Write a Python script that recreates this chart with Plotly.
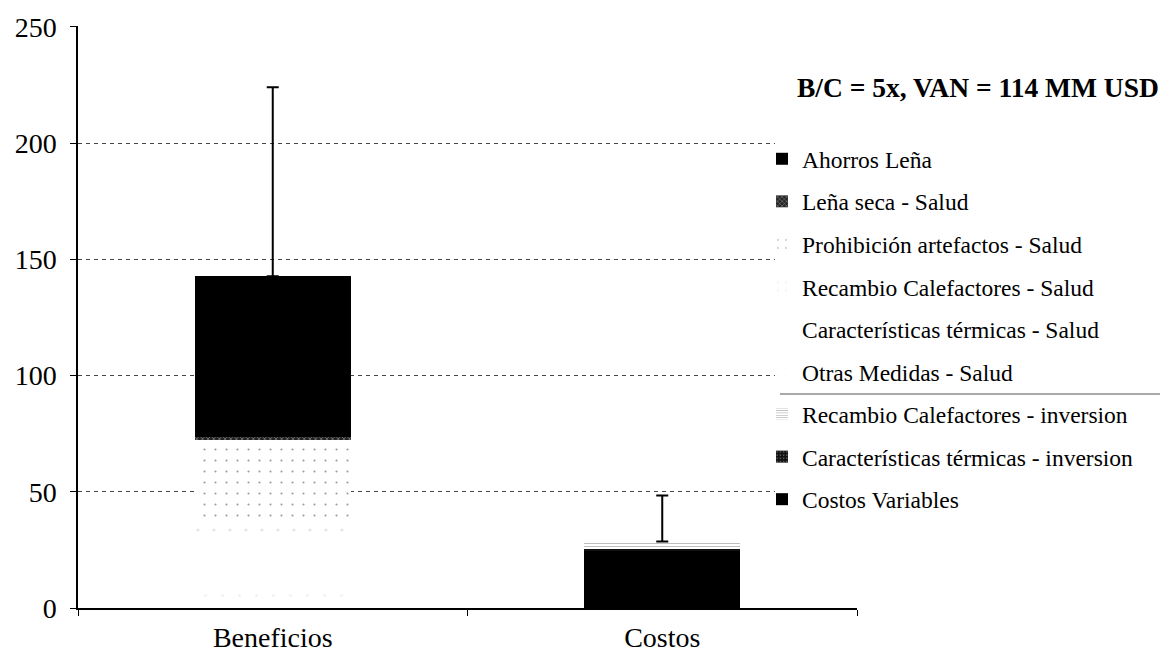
import numpy as np
import plotly.graph_objects as go

# Categories on the x axis
categories = ["Beneficios", "Costos"]

# Stacked components (MM USD), listed bottom to top of the stack
costos_variables = [0.0, 24.8]
caract_termicas_inversion = [0.0, 0.5]
recambio_calefactores_inversion = [0.0, 3.3]
otras_medidas_salud = [8.0, 0.0]
caract_termicas_salud = [20.8, 0.0]
recambio_calefactores_salud = [7.0, 0.0]
prohibicion_artefactos_salud = [36.6, 0.0]
lena_seca_salud = [1.1, 0.0]
ahorros_lena = [69.2, 0.0]

# Upper uncertainty on each total
error_plus = [81.3, 19.8]

y_ticks = [0, 50, 100, 150, 200, 250]

SERIF = "Liberation Serif"

series = [
    ("Costos Variables", costos_variables,
     dict(color="#000000")),
    ("Características térmicas - inversion", caract_termicas_inversion,
     dict(color="#111111", pattern=dict(shape=".", fgcolor="#ffffff", bgcolor="#111111", size=4, solidity=0.15))),
    ("Recambio Calefactores - inversion", recambio_calefactores_inversion,
     dict(color="#ffffff", pattern=dict(shape="-", fgcolor="#555555", bgcolor="#ffffff", size=3, solidity=0.25))),
    ("Otras Medidas - Salud", otras_medidas_salud,
     dict(color="#ffffff", pattern=dict(shape=".", fgcolor="#dddddd", bgcolor="#ffffff", size=17, solidity=0.02))),
    ("Características térmicas - Salud", caract_termicas_salud,
     dict(color="#ffffff")),
    ("Recambio Calefactores - Salud", recambio_calefactores_salud,
     dict(color="#ffffff", pattern=dict(shape=".", fgcolor="#cccccc", bgcolor="#ffffff", size=16, solidity=0.03))),
    ("Prohibición artefactos - Salud", prohibicion_artefactos_salud,
     dict(color="#ffffff", pattern=dict(shape=".", fgcolor="#333333", bgcolor="#ffffff", size=11, solidity=0.03))),
    ("Leña seca - Salud", lena_seca_salud,
     dict(color="#222222", pattern=dict(shape="x", fgcolor="#ffffff", bgcolor="#222222", size=4, solidity=0.3))),
    ("Ahorros Leña", ahorros_lena,
     dict(color="#000000")),
]

fig = go.Figure()

n = len(series)
for i, (name, values, marker) in enumerate(series):
    fig.add_trace(go.Bar(
        x=categories,
        y=values,
        name=name,
        legendgroup=f"g{i}",
        legendrank=n - i,  # top of the stack listed first
        marker=dict(line=dict(width=0), **marker),
        width=0.4,
    ))

# Totals carry the upper error bars
totals = np.sum([s[1] for s in series], axis=0)
fig.add_trace(go.Scatter(
    x=categories,
    y=totals,
    mode="markers",
    marker=dict(size=1, color="rgba(0,0,0,0)"),
    error_y=dict(type="data", symmetric=False, array=error_plus,
                 arrayminus=[0, 0], color="#000000", thickness=2, width=6),
    showlegend=False,
    hoverinfo="skip",
))

W, H = 1164, 657
L, R, T, B = 78, 307, 26, 49
pw, ph = W - L - R, H - T - B


def px_x(x):
    return (x - L) / pw


def px_y(y):
    return (H - B - y) / ph


fig.update_layout(
    width=W, height=H,
    margin=dict(l=L, r=R, t=T, b=B, autoexpand=False),
    barmode="stack",
    paper_bgcolor="#ffffff",
    plot_bgcolor="#ffffff",
    font=dict(family=SERIF, color="#000000"),
    showlegend=True,
    legend=dict(
        x=px_x(762), y=px_y(137), xanchor="left", yanchor="top",
        traceorder="grouped",
        tracegroupgap=9,
        bgcolor="rgba(0,0,0,0)",
        font=dict(family=SERIF, size=23.5, color="#000000"),
    ),
    xaxis=dict(
        type="category",
        automargin=False,
        showline=True, linecolor="#000000", linewidth=2,
        ticks="outside", tickson="boundaries", ticklen=6, tickcolor="#000000", tickwidth=1,
        tickfont=dict(family=SERIF, size=28, color="#000000"),
        ticklabelstandoff=3,
        showgrid=False,
    ),
    yaxis=dict(
        range=[0, 250.4],
        automargin=False,
        tickvals=y_ticks,
        showline=True, linecolor="#000000", linewidth=1.5,
        ticks="outside", ticklen=6, tickcolor="#000000",
        tickfont=dict(family=SERIF, size=28, color="#000000"),
        ticklabelstandoff=8,
        showgrid=True, gridcolor="#444444", gridwidth=1, griddash="4px,4px",
        zeroline=False,
    ),
    shapes=[
        # blank panel behind the legend
        dict(type="rect", xref="paper", yref="paper",
             x0=px_x(775), x1=px_x(1164), y0=px_y(560), y1=px_y(36),
             fillcolor="#ffffff", line=dict(width=0), layer="above"),
        # separator between health and investment items
        dict(type="line", xref="paper", yref="paper",
             x0=px_x(780), x1=px_x(1160), y0=px_y(394), y1=px_y(394),
             line=dict(color="#555555", width=1), layer="above"),
    ],
    annotations=[
        dict(text="<b>B/C = 5x, VAN = 114 MM USD</b>",
             xref="paper", yref="paper", x=px_x(795), y=px_y(88),
             xanchor="left", yanchor="middle", showarrow=False,
             font=dict(family=SERIF, size=27.5, color="#000000")),
    ],
)

fig.write_html("out.html")
